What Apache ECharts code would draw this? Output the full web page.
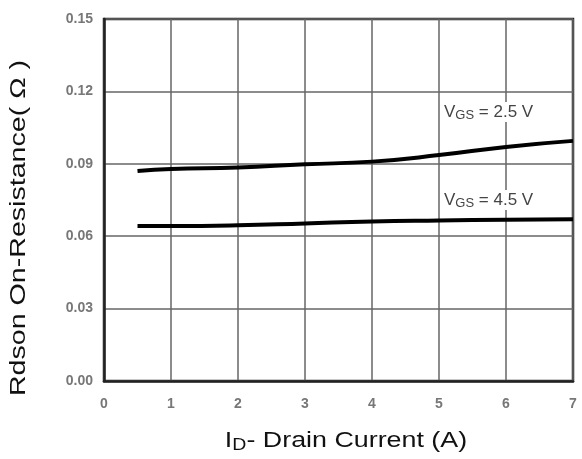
<!DOCTYPE html>
<html>
<head>
<meta charset="utf-8">
<script src="https://cdn.jsdelivr.net/npm/echarts@6/dist/echarts.min.js"></script>
<style>
  html, body { margin: 0; padding: 0; background: #fff; }
  #chart { width: 582px; height: 459px; }
</style>
</head>
<body>
<div id="chart"></div>
<script>
// drain current (A)
var current = [0.5, 1, 2, 3, 4, 5, 6, 7];
// Rdson for each gate voltage
var vgs25 = [0.0870, 0.0878, 0.0885, 0.0898, 0.0909, 0.0936, 0.0970, 0.0995];
var vgs45 = [0.0642, 0.0642, 0.0645, 0.0653, 0.0661, 0.0665, 0.0668, 0.0670];

function pairs(xs, ys) {
    var out = [];
    for (var i = 0; i < xs.length; i++) {
        out.push([xs[i], ys[i]]);
    }
    return out;
}

var font = 'Liberation Sans, Arial, sans-serif';
var richLabel = {
    v: { fontSize: 17, color: '#444', fontFamily: font },
    sub: { fontSize: 13, color: '#444', fontFamily: font, padding: [7, 0, 0, 0] }
};

function noteLabel(text) {
    return {
        show: true,
        position: 'inside',
        align: 'left',
        verticalAlign: 'middle',
        backgroundColor: '#fff',
        padding: [0, 1],
        formatter: text,
        rich: richLabel
    };
}

var chart = echarts.init(document.getElementById('chart'));
chart.setOption({
    animation: false,
    backgroundColor: '#fff',
    grid: {
        left: 104, right: 9, top: 19, bottom: 78,
        show: true,
        borderColor: '#222',
        borderWidth: 2.5
    },
    // axis titles are stretched wide in the original, so draw them as graphics
    graphic: [{
        type: 'text',
        x: 19, y: 228,
        rotation: Math.PI / 2,
        scaleX: 1.3,
        style: {
            text: 'Rdson On-Resistance( Ω )',
            font: '22px ' + font,
            fill: '#111',
            align: 'center',
            verticalAlign: 'middle'
        }
    }, {
        type: 'text',
        x: 346, y: 441,
        scaleX: 1.22,
        style: {
            text: '{v|I}{sub|D}{v|- Drain Current (A)}',
            align: 'center',
            verticalAlign: 'middle',
            rich: {
                v: { fontSize: 22, fill: '#111', fontFamily: font },
                sub: { fontSize: 16, fill: '#111', fontFamily: font, padding: [9, 0, 0, 0] }
            }
        }
    }],
    xAxis: {
        type: 'value',
        min: 0, max: 7, interval: 1,
        axisLine: { lineStyle: { color: '#222', width: 2.5 } },
        axisTick: { show: false },
        axisLabel: { color: '#777', fontSize: 14, fontWeight: 'bold', fontFamily: font, margin: 16 },
        splitLine: { lineStyle: { color: '#666', width: 1.5 } }
    },
    yAxis: {
        type: 'value',
        min: 0, max: 0.15, interval: 0.03,
        axisLine: { lineStyle: { color: '#222', width: 2.5 } },
        axisTick: { show: false },
        axisLabel: {
            color: '#777', fontSize: 14, fontWeight: 'bold', fontFamily: font, margin: 11,
            formatter: function (v) { return v.toFixed(2); }
        },
        splitLine: { lineStyle: { color: '#666', width: 1.5 } }
    },
    series: [{
        name: 'VGS = 2.5 V',
        type: 'line',
        data: pairs(current, vgs25),
        smooth: true,
        showSymbol: false,
        lineStyle: { color: '#000', width: 4 },
        markPoint: {
            symbolSize: 0,
            data: [{ coord: [5.06, 0.1115], label: noteLabel('{v|V}{sub|GS}{v| = 2.5 V}') }]
        }
    }, {
        name: 'VGS = 4.5 V',
        type: 'line',
        data: pairs(current, vgs45),
        smooth: true,
        showSymbol: false,
        lineStyle: { color: '#000', width: 4 },
        markPoint: {
            symbolSize: 0,
            data: [{ coord: [5.06, 0.0750], label: noteLabel('{v|V}{sub|GS}{v| = 4.5 V}') }]
        }
    }]
});
</script>
</body>
</html>
